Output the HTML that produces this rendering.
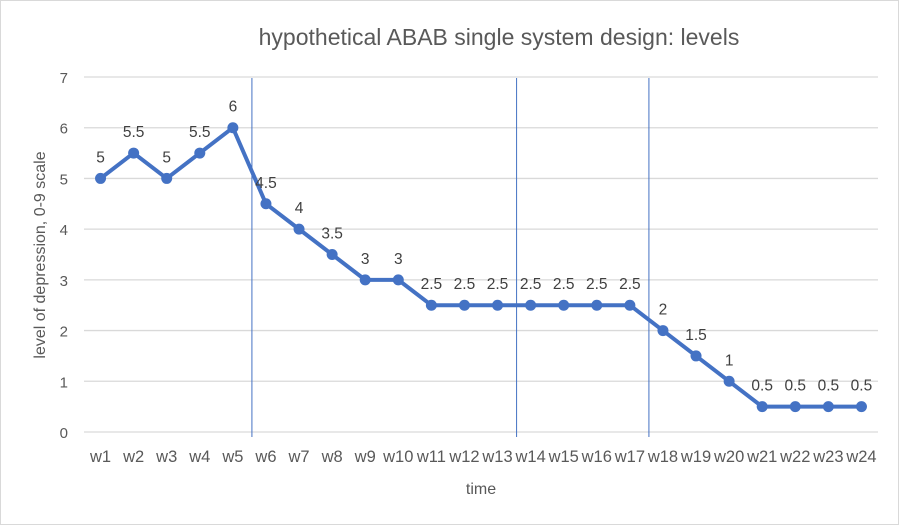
<!DOCTYPE html>
<html><head><meta charset="utf-8"><style>
body{margin:0;background:#fff;}
svg text{font-family:"Liberation Sans",sans-serif;}
</style></head><body>
<svg id="chart" width="899" height="525" viewBox="0 0 899 525" xmlns="http://www.w3.org/2000/svg">
<rect x="0.5" y="0.5" width="898" height="524" fill="#fff" stroke="#d9d9d9"/>
<text x="499" y="45" font-size="23" fill="#595959" text-anchor="middle">hypothetical ABAB single system design: levels</text>
<text transform="translate(45,255) rotate(-90)" font-size="16" fill="#595959" text-anchor="middle">level of depression, 0-9 scale</text>
<text x="481" y="494" font-size="16" fill="#595959" text-anchor="middle">time</text>
<g id="grid"></g><g id="phase"></g><g id="series"></g><g id="labels"></g>
</svg>
<script>
const categories=["w1","w2","w3","w4","w5","w6","w7","w8","w9","w10","w11","w12","w13","w14","w15","w16","w17","w18","w19","w20","w21","w22","w23","w24"];
const values=[5,5.5,5,5.5,6,4.5,4,3.5,3,3,2.5,2.5,2.5,2.5,2.5,2.5,2.5,2,1.5,1,0.5,0.5,0.5,0.5];
const yTicks=[0,1,2,3,4,5,6,7];
const phaseBreaks=[5,13,17];
const NS="http://www.w3.org/2000/svg";
const L=84,R=878,T=77,B=432,ymax=7;
const bw=(R-L)/categories.length;
const x=i=>L+bw*(i+0.5);
const y=v=>B-(B-T)*v/ymax;
function mk(t,a,p){const e=document.createElementNS(NS,t);for(const k in a)e.setAttribute(k,a[k]);p.appendChild(e);return e;}
const g=document.getElementById('grid');
yTicks.forEach(v=>{
 const ln=mk('line',{x1:L,x2:R,y1:y(v),y2:y(v),stroke:'#d9d9d9','stroke-width':1.3},g);
 
 
 const t=mk('text',{x:68,y:y(v)+6,'font-size':15,fill:'#595959','text-anchor':'end'},g);
 t.textContent=v;
 
 
});
categories.forEach((c,i)=>{
 const t=mk('text',{x:x(i),y:462,'font-size':16.5,fill:'#595959','text-anchor':'middle'},g);
 t.textContent=c;
 
 
});
const ph=document.getElementById('phase');
phaseBreaks.forEach(b=>{
 const px=L+bw*b+2.5;
 const ln=mk('line',{x1:px,x2:px,y1:T+1,y2:437,stroke:'#4472c4','stroke-width':1},ph);
 
 
});
const s=document.getElementById('series');
const pl=mk('polyline',{points:values.map((v,i)=>x(i)+','+y(v)).join(' '),fill:'none',stroke:'#4472c4','stroke-width':4,'stroke-linejoin':'round'},s);


const lb=document.getElementById('labels');
values.forEach((v,i)=>{
 const c=mk('circle',{cx:x(i),cy:y(v),r:5.5,fill:'#4472c4'},s);
 
 
 const t=mk('text',{x:x(i),y:y(v)-16,'font-size':15.5,fill:'#404040','text-anchor':'middle'},lb);
 t.textContent=v;
 
 
});
</script>
</body></html>
